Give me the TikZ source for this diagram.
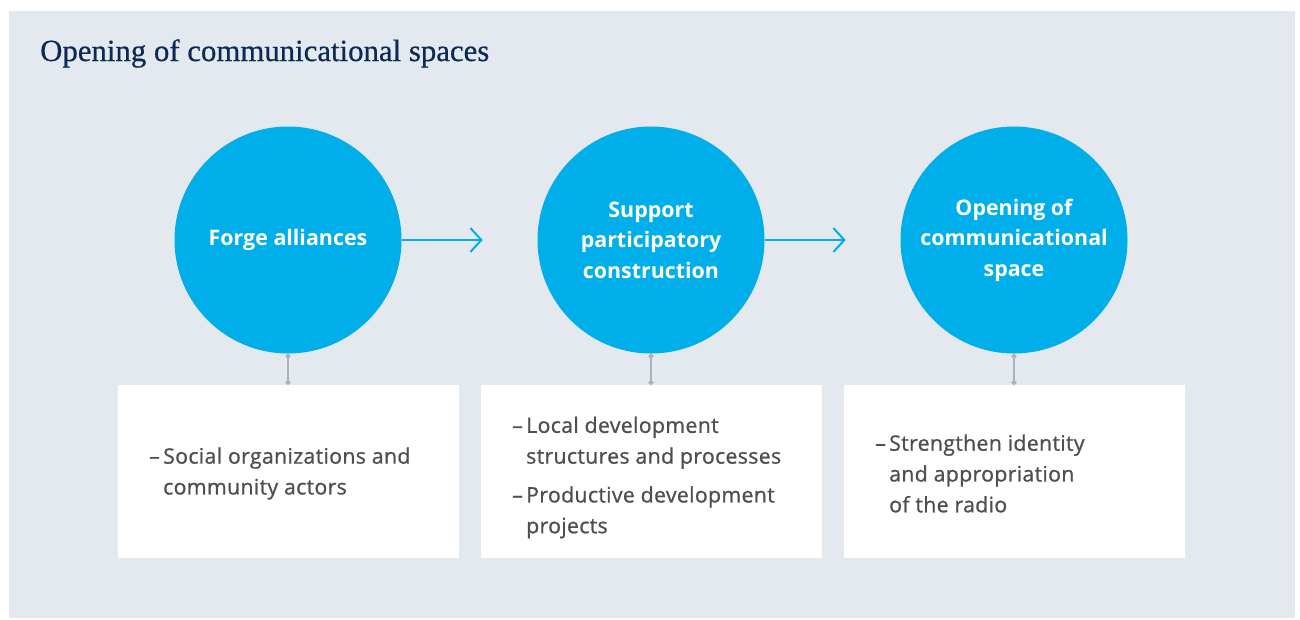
\documentclass[tikz,border=0pt]{standalone}
\usepackage{fontspec}
\setmainfont{Open Sans}
\newfontfamily\titlefont{Liberation Serif}[FakeBold=0.6]
\newfontfamily\semib{Open Sans}[FakeBold=0.9, LetterSpace=1.5]
\usetikzlibrary{arrows.meta}
\definecolor{panel}{HTML}{E4E9F0}
\definecolor{cyanc}{HTML}{00AEEA}
\definecolor{navy}{HTML}{0B2A55}
\definecolor{bodyg}{HTML}{4F4F4F}
\definecolor{conng}{HTML}{A9B3BF}
\tikzset{
  circ/.style={circle, fill=cyanc, minimum size=227pt, inner sep=0pt, text=white, align=center,
    font=\fontsize{21.4}{30.5}\selectfont\bfseries},
  box/.style={fill=white, minimum width=341pt, minimum height=173pt, inner sep=0pt, anchor=north west},
  btext/.style={anchor=west, inner sep=0pt, align=left, text=bodyg, font=\semib\fontsize{21.3}{30.8}\selectfont},
  flow/.style={draw=cyanc, line width=2pt, -{Straight Barb[length=11pt,width=24pt,line width=2pt]}},
  conn/.style={draw=conng, line width=1.8pt, {Circle[length=5pt]}-{Circle[length=5pt]}},
}
\newcommand{\dsh}{\makebox[14pt][l]{–}}
\newcommand{\ind}{\hspace*{14pt}}
\begin{document}
\begin{tikzpicture}[x=1pt,y=-1pt]
\useasboundingbox (0,0) rectangle (1300,619);
\fill[white] (0,0) rectangle (1300,619);
\fill[panel] (9,11) rectangle (1295,618);
\node[anchor=base west, inner sep=0pt, text=navy, font=\titlefont\fontsize{30.8}{34}\selectfont] (title) at (40,61) {Opening of communicational spaces};

\node[circ] (c1) at (288,240) {Forge alliances};
\node[circ] (c2) at (651,240) {Support\\participatory\\construction};
\node[circ] (c3) at (1014,240) {Opening of\\communicational\\space};

\node[box] (b1) at (118,385) {};
\node[box] (b2) at (481,385) {};
\node[box] (b3) at (844,385) {};

\draw[flow] (c1.east) -- ++(81,0) coordinate (a1);
\draw[flow] (c2.east) -- ++(81,0) coordinate (a2);

\draw[conn] (c1.south) -- (b1.north -| c1.south);
\draw[conn] (c2.south) -- (b2.north -| c2.south);
\draw[conn] (c3.south) -- (b3.north -| c3.south);

\node[btext] (t1) at (149,473.5) {\dsh Social organizations and\\\ind community actors};
\node[btext] (t2) at (512,477.5) {\dsh Local development\\\ind structures and processes\\[8pt]\dsh Productive development\\\ind projects};
\node[btext] (t3) at (875,473.5) {\dsh Strengthen identity\\\ind and appropriation\\\ind of the radio};
\end{tikzpicture}
\end{document}
